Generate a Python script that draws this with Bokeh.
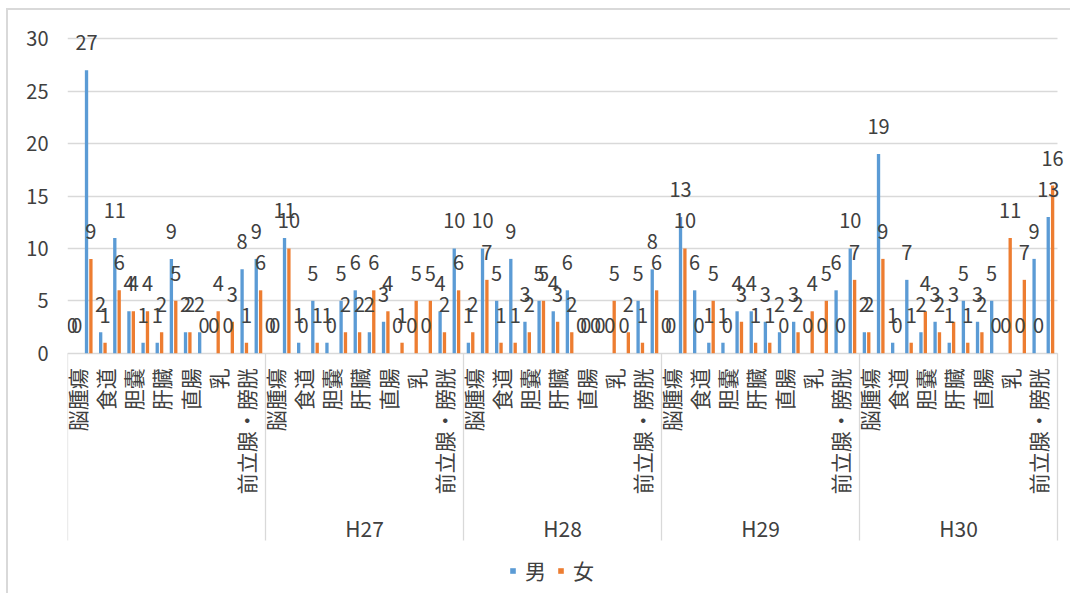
import math
from bokeh.plotting import figure
from bokeh.models import (Range1d, FixedTicker, Legend, LegendItem,
                          ColumnDataSource, LabelSet, BoxAnnotation)
from bokeh.core.properties import value
from bokeh.embed import file_html
from bokeh.resources import INLINE

# ---------------- data ----------------
groups = ["", "H27", "H28", "H29", "H30"]
categories = ["脳腫瘍", "肺", "食道", "胃", "胆嚢", "膵臓", "肝臓",
              "結腸", "直腸", "腎臓", "乳", "子宮・卵巣", "前立腺・膀胱", "その他"]
# Excel shows every other category label
label_shown = [True, False] * 7

male_g1 = [0, 27, 2, 11, 4, 1, 1, 9, 2, 2, 0, 0, 8, 9]
female_g1 = [0, 9, 1, 6, 4, 4, 2, 5, 2, 0, 4, 3, 1, 6]
male_g2 = [0, 11, 1, 5, 1, 5, 6, 2, 3, 0, 0, 0, 4, 10]
female_g2 = [0, 10, 0, 1, 0, 2, 2, 6, 4, 1, 5, 5, 2, 6]
male_g3 = [1, 10, 5, 9, 3, 5, 4, 6, 0, 0, 0, 0, 5, 8]
female_g3 = [2, 7, 1, 1, 2, 5, 3, 2, 0, 0, 5, 2, 1, 6]
male_g4 = [0, 13, 6, 1, 1, 4, 4, 3, 2, 3, 0, 0, 6, 10]
female_g4 = [0, 10, 0, 5, 0, 3, 1, 1, 0, 2, 4, 5, 0, 7]
male_g5 = [2, 19, 1, 7, 2, 3, 1, 5, 3, 5, 0, 0, 9, 13]
female_g5 = [2, 9, 0, 1, 4, 2, 3, 1, 2, 0, 11, 7, 0, 16]

series_names = ["男", "女"]
y_ticks = [0, 5, 10, 15, 20, 25, 30]

male_all = [male_g1, male_g2, male_g3, male_g4, male_g5]
female_all = [female_g1, female_g2, female_g3, female_g4, female_g5]

# ---------------- style ----------------
BLUE = "#5B9BD5"
ORANGE = "#ED7D31"
GRID = "#D9D9D9"
TXT = "#404040"
FONT = "Noto Sans CJK JP"

n_cat = len(categories)
n_all = n_cat * len(groups)

# pixel geometry (page coords) -> data ranges
PX_ZERO = 352.7
PX_PER_UNIT = 10.48
PX_PER_CAT = 990.0 / n_all
FRAME_TOP = 10.0
FRAME_BOTTOM = 595.0
EXTRA_RIGHT_PX = 15.0   # room so the last data label is not clipped
y_end = (PX_ZERO - FRAME_TOP) / PX_PER_UNIT
y_start = (PX_ZERO - FRAME_BOTTOM) / PX_PER_UNIT
x_end = n_all + EXTRA_RIGHT_PX / PX_PER_CAT
sep_bottom = -(540.0 - PX_ZERO) / PX_PER_UNIT
cat_label_y = -15.0 / PX_PER_UNIT
cat_label_dx = 2.0 / PX_PER_CAT
group_label_y = -(527.5 - PX_ZERO) / PX_PER_UNIT

p = figure(width=1064, height=585,
           x_range=Range1d(0, x_end), y_range=Range1d(y_start, y_end),
           output_backend="svg", toolbar_location=None,
           x_axis_location=None,
           min_border_left=59, min_border_right=0,
           min_border_top=0, min_border_bottom=0,
           outline_line_color=None)
p.styles = {"margin-left": "6px", "margin-top": "8px",
            "border-left": "2px solid #D9D9D9", "border-top": "2px solid #D9D9D9"}

p.yaxis.ticker = FixedTicker(ticks=y_ticks)
p.yaxis.axis_line_color = None
p.yaxis.major_tick_line_color = None
p.yaxis.minor_tick_line_color = None
p.yaxis.major_tick_out = 0
p.yaxis.major_label_standoff = 19
p.yaxis.major_label_text_font = FONT
p.yaxis.major_label_text_font_size = "20px"
p.yaxis.major_label_text_color = TXT

p.ygrid.ticker = FixedTicker(ticks=y_ticks)
p.ygrid.grid_line_color = GRID
p.ygrid.grid_line_width = 1.3
p.xgrid.visible = False

# mask the gridlines beyond the last category (plot area ends there)
p.add_layout(BoxAnnotation(left=n_all, fill_color="white", fill_alpha=1.0,
                           line_color=None, level="underlay"))

# ---------------- bars ----------------
BAR_W = 0.235
OFF = 0.155
xm, xf, vm, vf = [], [], [], []
for g in range(len(groups)):
    for k in range(n_cat):
        c = g * n_cat + k + 0.5
        xm.append(c - OFF)
        xf.append(c + OFF)
        vm.append(male_all[g][k])
        vf.append(female_all[g][k])

src_m = ColumnDataSource(dict(x=xm, top=vm, lab=[str(v) for v in vm]))
src_f = ColumnDataSource(dict(x=xf, top=vf, lab=[str(v) for v in vf]))

rm = p.vbar(x="x", top="top", bottom=0, width=BAR_W, source=src_m,
            fill_color=BLUE, line_color=None)
rf = p.vbar(x="x", top="top", bottom=0, width=BAR_W, source=src_f,
            fill_color=ORANGE, line_color=None)

for src in (src_m, src_f):
    p.add_layout(LabelSet(x="x", y="top", text="lab", source=src,
                          text_font=value(FONT), text_font_size="20px",
                          text_color=TXT, text_align="center",
                          text_baseline="alphabetic", y_offset=20))

# ---------------- category axis (two levels) ----------------
cx, ctext = [], []
for g in range(len(groups)):
    for k in range(n_cat):
        if label_shown[k]:
            cx.append(g * n_cat + k + 0.5 + cat_label_dx)
            ctext.append(categories[k])
p.text(x=cx, y=[cat_label_y] * len(cx), text=ctext, angle=math.pi / 2,
       text_font=value(FONT), text_font_size="21px", text_color=TXT,
       text_align="right", text_baseline="middle")

gx = [g * n_cat + n_cat / 2 for g in range(len(groups))]
p.text(x=gx, y=[group_label_y] * len(gx), text=groups,
       text_font=value(FONT), text_font_size="21px", text_color=TXT,
       text_align="center", text_baseline="middle")

bounds = [g * n_cat for g in range(len(groups) + 1)]
p.segment(x0=bounds, y0=[0] * len(bounds), x1=bounds, y1=[sep_bottom] * len(bounds),
          line_color=GRID, line_width=1.3)

# ---------------- legend ----------------
legend = Legend(items=[LegendItem(label=series_names[0], renderers=[rm]),
                       LegendItem(label=series_names[1], renderers=[rf])],
                orientation="horizontal", location=(442, 10),
                glyph_width=7, glyph_height=7, label_standoff=9, spacing=11,
                padding=0, margin=0, border_line_color=None,
                background_fill_alpha=0,
                label_text_font=FONT, label_text_font_size="21px",
                label_text_color=TXT)
p.add_layout(legend)

open("out.html", "w").write(file_html(p, INLINE))
